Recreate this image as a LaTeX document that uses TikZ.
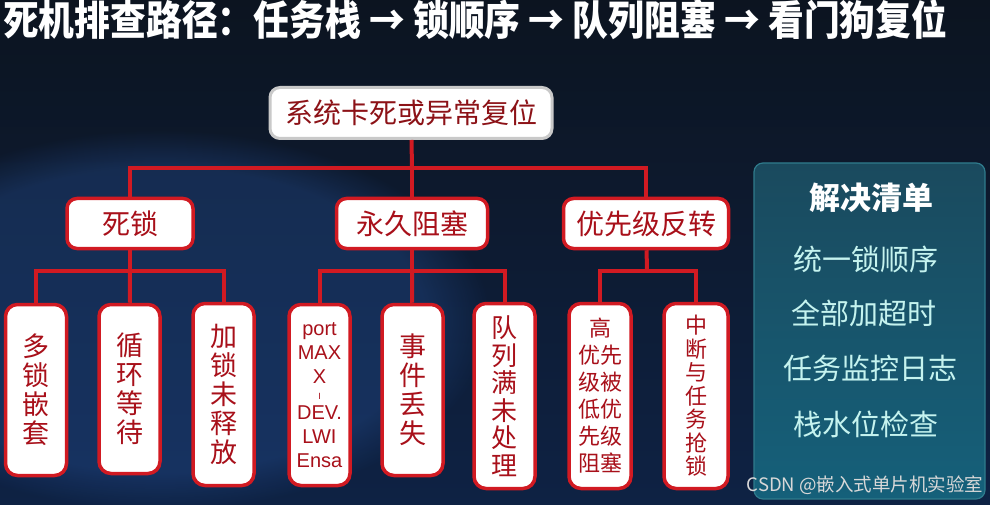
\documentclass[tikz,border=0pt]{standalone}
\usepackage{fontspec}
\usepackage{graphicx}
\setmainfont{Noto Sans CJK SC}
\newfontfamily\cjk{Noto Sans CJK SC}
\newfontfamily\latin{Liberation Sans}
\usetikzlibrary{fadings}
\definecolor{bgtop}{HTML}{0C1420}
\definecolor{bgmid}{HTML}{17376A}
\definecolor{bgbot}{HTML}{0E2244}
\definecolor{glow}{HTML}{2A5AA8}
\definecolor{lred}{HTML}{D11A22}
\definecolor{tred}{HTML}{A8101A}
\definecolor{rootred}{HTML}{8C1217}
\definecolor{rootgray}{HTML}{C9C9C9}
\definecolor{paneltop}{HTML}{1A4A5E}
\definecolor{panelbot}{HTML}{15607A}
\definecolor{panelline}{HTML}{2F7B8C}
\definecolor{itemcol}{HTML}{C5F3EF}
\definecolor{wmark}{HTML}{D8D8D8}
\tikzset{
  rootbox/.style={draw=rootgray, line width=3pt, fill=white, rounded corners=10pt,
    minimum width=282pt, minimum height=51pt, inner sep=0pt, text=rootred,
    font=\cjk\fontsize{28}{30}\selectfont},
  midbox/.style={draw=lred, line width=3.5pt, fill=white, rounded corners=10pt,
    minimum height=50pt, inner sep=0pt, text=tred,
    font=\cjk\fontsize{28}{30}\selectfont},
  leafbox/.style={draw=lred, line width=3.5pt, fill=white, rounded corners=12pt,
    inner sep=0pt, text=tred, align=center},
  wire/.style={draw=lred, line width=4pt},
  itemtext/.style={text=itemcol, font=\cjk\fontsize{29}{31}\selectfont, inner sep=0pt},
}
\begin{document}
\begin{tikzpicture}[x=1pt,y=-1pt]
\useasboundingbox (0,0) rectangle (990,505);
% background
\shade[top color=bgtop, middle color=bgmid, bottom color=bgbot] (0pt,0pt) rectangle (990pt,-505pt);
\fill[glow, opacity=0.3, path fading=circle with fuzzy edge 20 percent] (160,320) ellipse (330 and 190);
% title
\node[anchor=west, text=white, inner sep=0pt, font=\cjk\bfseries\fontsize{41}{43}\selectfont] (title) at (3,20)
  {\resizebox{944pt}{\height}{死机排查路径：任务栈 → 锁顺序 → 队列阻塞 → 看门狗复位}};
% root
\node[rootbox] (root) at (411,113) {系统卡死或异常复位};
% level 2
\node[midbox, minimum width=126pt] (dl) at (130,223.5) {死锁};
\node[midbox, minimum width=151pt] (yj) at (412,223.5) {永久阻塞};
\node[midbox, minimum width=165pt] (yx) at (646,223.5) {优先级反转};
% level 3
\node[leafbox, minimum width=61pt, minimum height=171pt, font=\cjk\fontsize{27}{29}\selectfont] (a1) at (36,390) {多\\锁\\嵌\\套};
\node[leafbox, minimum width=61pt, minimum height=169pt, font=\cjk\fontsize{27}{29}\selectfont] (a2) at (129.5,389) {循\\环\\等\\待};
\node[leafbox, minimum width=61pt, minimum height=182pt, font=\cjk\fontsize{27}{29}\selectfont] (a3) at (223.5,394.5) {加\\锁\\未\\释\\放};
\node[leafbox, minimum width=61pt, minimum height=181pt, font=\latin\fontsize{20}{24}\selectfont] (b1) at (319.5,395) {port\\MAX\\X\\[-8pt]{\fontsize{9}{9}\selectfont I}\\[-4pt]DEV.\\LWI\\Ensa};
\node[leafbox, minimum width=61pt, minimum height=171pt, font=\cjk\fontsize{27}{29}\selectfont] (b2) at (412.5,390) {事\\件\\丢\\失};
\node[leafbox, minimum width=61pt, minimum height=185pt, font=\cjk\fontsize{26}{27.5}\selectfont] (b3) at (504.5,396) {队\\列\\满\\未\\处\\理};
\node[leafbox, minimum width=62pt, minimum height=185pt, font=\cjk\fontsize{22}{27}\selectfont] (c1) at (600,396) {高\\优先\\级被\\低优\\先级\\阻塞};
\node[leafbox, minimum width=64pt, minimum height=185pt, font=\cjk\fontsize{22}{23.5}\selectfont] (c2) at (696,396) {中\\断\\与\\任\\务\\抢\\锁};
% connectors
\coordinate (j0) at (412,168);
\coordinate (j1) at (130,271);
\coordinate (j2) at (412,271);
\coordinate (j3) at (647,271);
\draw[wire] (root) -- (j0);
\draw[wire] (j0) -| (dl);
\draw[wire] (j0) -- (yj);
\draw[wire] (j0) -| (yx);
\draw[wire] (dl) -- (j1);
\draw[wire] (j1) -| (a1);
\draw[wire] (j1) -- (a2);
\draw[wire] (j1) -| (a3);
\draw[wire] (yj) -- (j2);
\draw[wire] (j2) -| (b1);
\draw[wire] (j2) -- (b2);
\draw[wire] (j2) -| (b3);
\draw[wire] (yx) -- (j3);
\draw[wire] (j3) -| (c1);
\draw[wire] (j3) -| (c2);
% solution panel
\shade[top color=paneltop, bottom color=panelbot, draw=panelline, line width=1.2pt, rounded corners=9pt]
  (754,163) rectangle (985,499);
\node[text=white, inner sep=0pt, font=\cjk\bfseries\fontsize{31}{33}\selectfont] (ptitle) at (871,198) {解决清单};
\node[itemtext] (s1) at (866,259) {统一锁顺序};
\node[itemtext] (s2) at (864,313) {全部加超时};
\node[itemtext] (s3) at (870,368) {任务监控日志};
\node[itemtext] (s4) at (866,424) {栈水位检查};
% watermark
\node[text=wmark, inner sep=0pt, font=\cjk\fontsize{18.5}{20}\selectfont] (wm) at (865,485) {CSDN @嵌入式单片机实验室};
\end{tikzpicture}
\end{document}
